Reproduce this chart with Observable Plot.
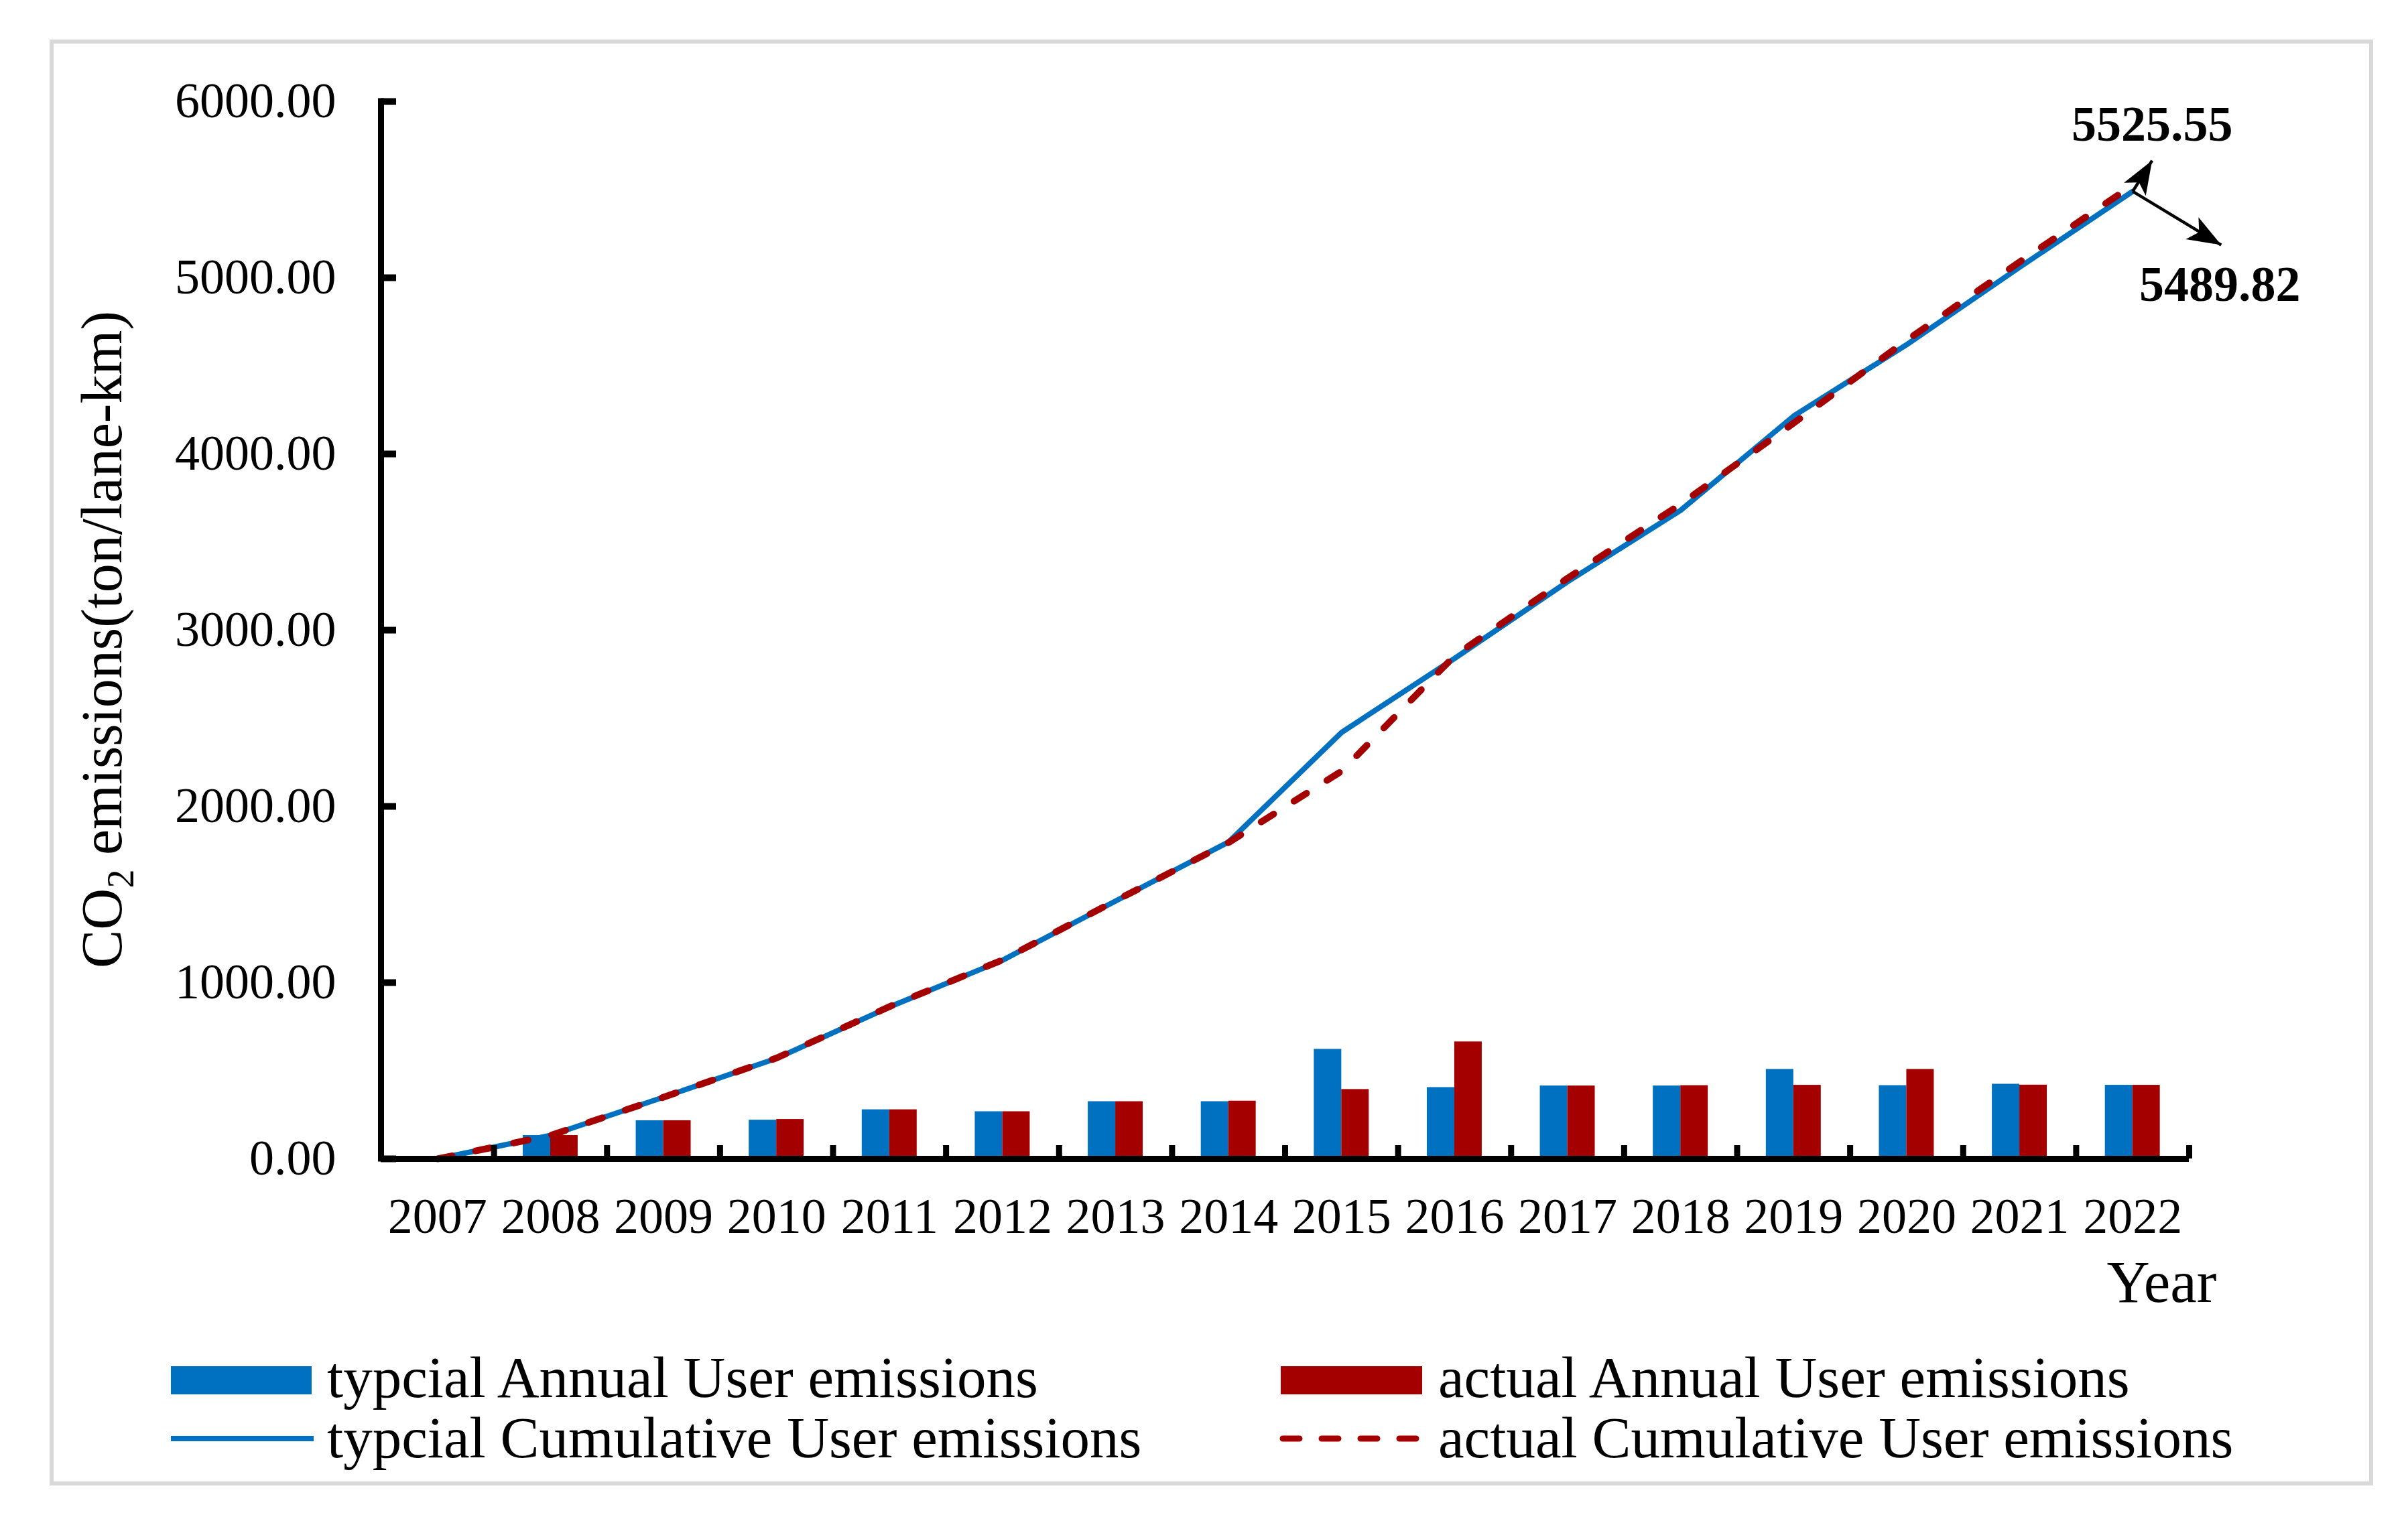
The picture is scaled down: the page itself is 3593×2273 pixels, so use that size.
<!DOCTYPE html>
<html>
<head>
<meta charset="utf-8">
<script src="https://cdn.jsdelivr.net/npm/d3@7"></script>
<script src="https://cdn.jsdelivr.net/npm/@observablehq/plot@0.6"></script>
<style>
  html, body { margin: 0; padding: 0; background: #ffffff; overflow: hidden; width: 3593px; height: 2273px; }
  #frame { position: absolute; left: 74px; top: 59px; width: 3467px; height: 2158px; border: 6px solid #d9d9d9; box-sizing: border-box; }
  #chart { position: absolute; left: 0; top: 0; }
  #legend { position: absolute; left: 0; top: 2000px; }
  svg { font-family: "Liberation Serif", "Times New Roman", serif; }
</style>
</head>
<body>
<div id="frame"></div>
<div id="chart"></div>
<svg id="legend" width="3593" height="273"></svg>
<script>
// ---- data ----
const years = [2007, 2008, 2009, 2010, 2011, 2012, 2013, 2014, 2015, 2016, 2017, 2018, 2019, 2020, 2021, 2022];
const typicalAnnual = [0, 133, 217, 220, 279, 268, 325, 325, 622, 405, 414, 414, 508, 416, 424, 418];
const actualAnnual = [0, 133, 217, 224, 279, 268, 325, 328, 394, 664, 414, 416, 418, 508, 419, 418];
const typicalCumulative = [0, 133, 350, 570, 862, 1127, 1463, 1798, 2420, 2840, 3275, 3680, 4215, 4620, 5060, 5489.82];
const actualCumulative = [0, 133, 350, 572, 864, 1129, 1465, 1795, 2200, 2855, 3295, 3715, 4175, 4645, 5090, 5525.55];
const yTicks = [0, 1000, 2000, 3000, 4000, 5000, 6000];
const seriesNames = ["typcial Annual User emissions", "actual Annual User emissions",
                     "typcial Cumulative User emissions", "actual Cumulative User emissions"];
const endLabels = ["5525.55", "5489.82"];
const yTitle = "CO2 emissions(ton/lane-km)";
const xTitle = "Year";

// ---- styling ----
const BLUE = "#0070C0";
const RED = "#A50000";
const FONT = "Liberation Serif";
const barHalf = 0.243; // width of one bar in band units

const rows = years.map((year, i) => ({
  year,
  typicalAnnual: typicalAnnual[i],
  actualAnnual: actualAnnual[i],
  typicalCumulative: typicalCumulative[i],
  actualCumulative: actualCumulative[i]
}));
const bandEdges = years.map(y => y + 0.5);
const lastYear = years[years.length - 1];
const firstEdge = years[0] - 0.5;
const lastEdge = lastYear + 0.5;

// callouts for end values (arrows from the line end to the labels)
const callouts = [
  {label: endLabels[0], x1: lastYear, y1: typicalCumulative[15], x2: lastYear + 0.172, y2: 5665, angle: 31, tx: lastYear + 0.172, ty: 5776},
  {label: endLabels[1], x1: lastYear, y1: typicalCumulative[15], x2: lastYear + 0.783, y2: 5186, angle: 120, tx: lastYear + 0.772, ty: 4867}
];

const stealth = {
  draw(context) {
    context.moveTo(0, 0);
    context.lineTo(-19, 50);
    context.lineTo(0, 38);
    context.lineTo(19, 50);
    context.closePath();
  }
};

const chart = Plot.plot({
  width: 3593,
  height: 2000,
  marginLeft: 568,
  marginRight: 327,
  marginTop: 151,
  marginBottom: 271,
  style: {background: "none", fontFamily: FONT, color: "black", overflow: "visible"},
  x: {domain: [firstEdge, lastEdge]},
  y: {domain: [0, 6000]},
  marks: [
    Plot.rectY(rows, {x1: d => d.year - barHalf, x2: d => d.year, y: "typicalAnnual", fill: BLUE}),
    Plot.rectY(rows, {x1: d => d.year, x2: d => d.year + barHalf, y: "actualAnnual", fill: RED}),
    Plot.line(rows, {x: "year", y: "typicalCumulative", stroke: BLUE, strokeWidth: 8, strokeLinejoin: "round"}),
    Plot.line(rows, {x: "year", y: "actualCumulative", stroke: RED, strokeWidth: 10, strokeDasharray: "22,36", strokeLinecap: "round", strokeLinejoin: "round"}),
    // axis lines
    Plot.ruleX([firstEdge], {y1: 0, y2: 6000, stroke: "black", strokeWidth: 9, strokeLinecap: "square"}),
    Plot.ruleY([0], {x1: firstEdge, x2: lastEdge, stroke: "black", strokeWidth: 9}),
    // inward tick marks
    Plot.axisY({ticks: yTicks, tickSize: 23, dx: 23, strokeWidth: 10, fill: "none", label: null}),
    Plot.axisX({ticks: bandEdges, tickSize: 20, dy: -20, strokeWidth: 9, fill: "none", label: null}),
    // tick labels
    Plot.axisY({ticks: yTicks, tickSize: 0, tickPadding: 67, tickFormat: d => d.toFixed(2), fontSize: 74, label: null}),
    Plot.axisX({ticks: years, tickSize: 0, tickPadding: 58, tickFormat: d => String(d), fontSize: 74, label: null}),
    // axis titles
    Plot.text([xTitle], {frameAnchor: "bottom-right", textAnchor: "end", lineAnchor: "bottom", dx: 41, dy: 213, fontSize: 89}),
    Plot.text([yTitle], {frameAnchor: "left", rotate: -90, textAnchor: "middle", lineAnchor: "bottom", dx: -388, dy: 14, fontSize: 86, className: "ytitle"}),
    // callouts
    Plot.link(callouts, {x1: "x1", y1: "y1", x2: "x2", y2: "y2", stroke: "black", strokeWidth: 4.5}),
    Plot.dot(callouts, {x: "x2", y: "y2", symbol: stealth, rotate: "angle", fill: "black", stroke: "none"}),
    Plot.text(callouts, {x: "tx", y: "ty", text: "label", textAnchor: "middle", lineAnchor: "bottom", fontSize: 74, fontWeight: "bold"})
  ]
});
document.getElementById("chart").appendChild(chart);

// subscript in CO2
chart.querySelectorAll("text").forEach(t => {
  if (t.textContent === yTitle) {
    t.textContent = "";
    const ns = "http://www.w3.org/2000/svg";
    const a = document.createElementNS(ns, "tspan"); a.textContent = "CO";
    const b = document.createElementNS(ns, "tspan"); b.textContent = "2";
    b.setAttribute("font-size", "56"); b.setAttribute("dy", "18");
    const c = document.createElementNS(ns, "tspan"); c.textContent = " emissions(ton/lane-km)";
    c.setAttribute("dy", "-18");
    t.appendChild(a); t.appendChild(b); t.appendChild(c);
  }
});

// legend (below the plot)
const lg = d3.select("#legend");
const lf = {size: 87};
lg.append("rect").attr("x", 255).attr("y", 39).attr("width", 210).attr("height", 42).attr("fill", BLUE);
lg.append("text").attr("x", 488).attr("y", 85).attr("font-size", lf.size).text(seriesNames[0]);
lg.append("line").attr("x1", 255).attr("x2", 468).attr("y1", 147).attr("y2", 147).attr("stroke", BLUE).attr("stroke-width", 8);
lg.append("text").attr("x", 488).attr("y", 175).attr("font-size", lf.size).text(seriesNames[2]);
lg.append("rect").attr("x", 1911).attr("y", 39).attr("width", 211).attr("height", 42).attr("fill", RED);
lg.append("text").attr("x", 2146).attr("y", 85).attr("font-size", lf.size).text(seriesNames[1]);
lg.append("line").attr("x1", 1914).attr("x2", 2118).attr("y1", 147).attr("y2", 147).attr("stroke", RED).attr("stroke-width", 9)
  .attr("stroke-dasharray", "25,33").attr("stroke-linecap", "round");
lg.append("text").attr("x", 2146).attr("y", 175).attr("font-size", lf.size).text(seriesNames[3]);
</script>
</body>
</html>
